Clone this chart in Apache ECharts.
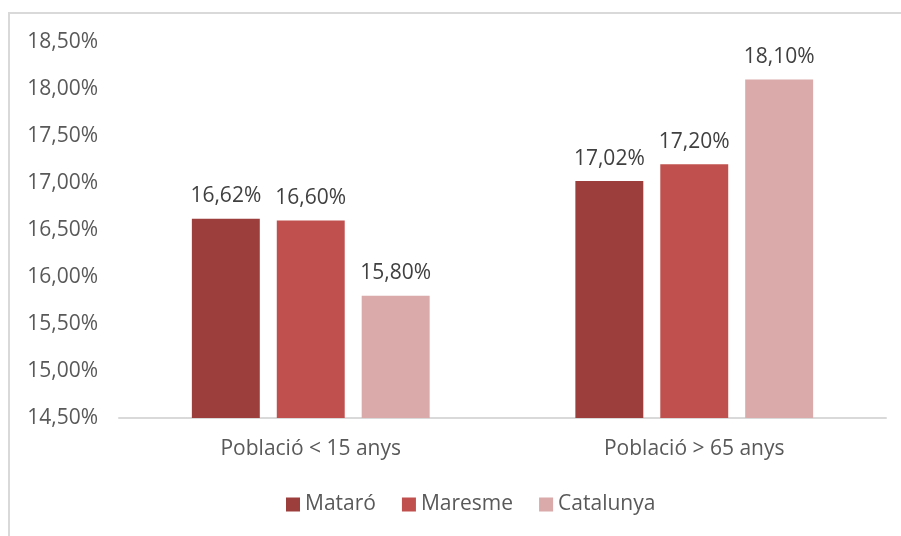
<!DOCTYPE html>
<html><head><meta charset="utf-8">
<script src="https://cdn.jsdelivr.net/npm/echarts@6/dist/echarts.min.js"></script>
<style>html,body{margin:0;padding:0;background:#fff}#c{width:901px;height:536px}
#frame{position:absolute;left:8px;top:12px;width:1000px;height:1000px;border:2px solid #d9d9d9;box-sizing:border-box}</style>
</head><body><div id="frame"></div><div id="c" style="position:absolute;left:0;top:0"></div>
<script>
var categories = ['Població < 15 anys', 'Població > 65 anys'];
var seriesNames = ['Mataró', 'Maresme', 'Catalunya'];
var mataro = [16.62, 17.02];
var maresme = [16.60, 17.20];
var catalunya = [15.80, 18.10];
var colors = ['#9c3f3c', '#c0504d', '#daa9a9'];
var chart = echarts.init(document.getElementById('c'));
function fmt(v){return v.toFixed(2).replace('.', ',') + '%';}
var data = [mataro, maresme, catalunya];
chart.setOption({
  animation:false,
  textStyle:{fontFamily:'Open Sans'},
  grid:{left:119, right:15, top:42, bottom:118},
  legend:{bottom:16, left:281, itemWidth:14, itemHeight:14, itemGap:26, icon:'rect',
    textStyle:{fontSize:21, color:'#595959', fontFamily:'Open Sans'}, data:seriesNames},
  xAxis:{type:'category', data:categories,
    axisLine:{lineStyle:{color:'#d9d9d9', width:2}}, axisTick:{show:false},
    axisLabel:{fontSize:21, color:'#595959', margin:21}},
  yAxis:{type:'value', min:14.5, max:18.5, interval:0.5,
    axisLabel:{fontSize:21, color:'#595959', margin:21, formatter:function(v){return fmt(v);}},
    splitLine:{show:false}, axisLine:{show:false}, axisTick:{show:false}},
  series: seriesNames.map(function(n,i){return {
    name:n, type:'bar', data:data[i], barGap:'25%', barCategoryGap:'38%',
    itemStyle:{color:colors[i]},
    label:{show:true, position:'top', distance:12, fontSize:21, color:'#404040', formatter:function(p){return fmt(p.value);}}
  };})
});
</script></body></html>
